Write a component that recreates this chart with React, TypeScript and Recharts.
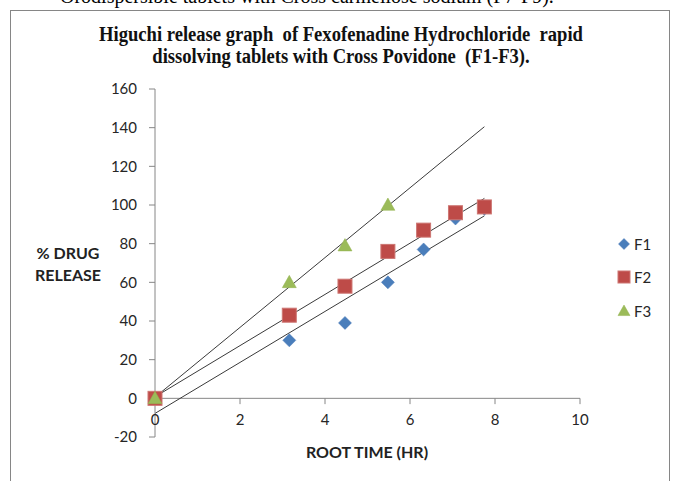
import { ScatterChart, Scatter, XAxis, YAxis, ReferenceLine, Legend } from 'recharts';

// root time (sqrt of hr) and % drug release
const rootTime = [0, 3.16, 4.47, 5.48, 6.32, 7.07, 7.75];
const f1Release = [0, 30, 39, 60, 77, 93, 98];
const f2Release = [0, 43, 58, 76, 87, 96, 99];
const f3Release = [0, 60, 79, 100];
const seriesNames = ['F1', 'F2', 'F3'];
const xTicks = [0, 2, 4, 6, 8, 10];
const yTicks = [-20, 0, 20, 40, 60, 80, 100, 120, 140, 160];

const colors = { F1: '#4A7EBB', F2: '#BE4B48', F3: '#9BBB59' };
const axisGray = '#868686';
const tickFont = { fill: '#262626', fontSize: 15, fontFamily: 'Lato' };

const toPoints = (ys: number[]) => ys.map((y, i) => ({ x: rootTime[i], y }));

// least squares fit, like Excel's linear trendline
function linFit(ys: number[]) {
  const xs = rootTime.slice(0, ys.length);
  const n = ys.length;
  const mx = xs.reduce((a, b) => a + b, 0) / n;
  const my = ys.reduce((a, b) => a + b, 0) / n;
  let sxy = 0;
  let sxx = 0;
  xs.forEach((x, i) => {
    sxy += (x - mx) * (ys[i] - my);
    sxx += (x - mx) * (x - mx);
  });
  const slope = sxy / sxx;
  const icpt = my - slope * mx;
  const xEnd = rootTime[rootTime.length - 1];
  return [
    { x: 0, y: icpt },
    { x: xEnd, y: icpt + slope * xEnd },
  ];
}

const Diamond = ({ cx, cy, r = 6.5 }: any) => (
  <path d={`M${cx},${cy - r}L${cx + r},${cy}L${cx},${cy + r}L${cx - r},${cy}Z`} fill={colors.F1} stroke="#4576B5" strokeWidth={0.5} />
);
const Square = ({ cx, cy, s = 14 }: any) => (
  <rect x={cx - s / 2} y={cy - s / 2} width={s} height={s} fill={colors.F2} stroke="#CD7672" strokeWidth={1} />
);
const Triangle = ({ cx, cy, w = 14 }: any) => (
  <path d={`M${cx},${cy - w / 2}L${cx + w / 2},${cy + w * 0.38}L${cx - w / 2},${cy + w * 0.38}Z`} fill={colors.F3} stroke="#93B34F" strokeWidth={0.5} />
);

const legendIcon: Record<string, (cx: number, cy: number) => JSX.Element> = {
  F1: (cx, cy) => <Diamond cx={cx} cy={cy} r={5.5} />,
  F2: (cx, cy) => <Square cx={cx} cy={cy} s={12} />,
  F3: (cx, cy) => <Triangle cx={cx} cy={cy} w={12} />,
};

function LegendBox() {
  return (
    <div>
      {seriesNames.map((name) => (
        <div key={name} style={{ height: 33.5, display: 'flex', alignItems: 'center' }}>
          <svg width={16} height={16}>{legendIcon[name](8, 8)}</svg>
          <span style={{ marginLeft: 2, fontFamily: 'Lato', fontSize: 15, color: '#262626' }}>{name}</span>
        </div>
      ))}
    </div>
  );
}

export default function App() {
  const fits = [f1Release, f2Release, f3Release].map(linFit);
  return (
    <div style={{ position: 'absolute', left: 0, top: 0, width: 677, height: 481, overflow: 'hidden', background: '#fff' }}>
      <div style={{ position: 'absolute', left: 60, top: -15, fontFamily: 'Liberation Serif', fontSize: 20, lineHeight: '23px', whiteSpace: 'nowrap', color: '#000' }}>
        Orodispersible tablets with Cross carmellose sodium (F7-F9).
      </div>
      <div style={{ position: 'absolute', left: 10, top: 10, width: 660, height: 600, border: `1.5px solid ${axisGray}`, boxSizing: 'border-box' }} />
      <div style={{ position: 'absolute', left: 0, top: 23, width: 682, textAlign: 'center', fontFamily: 'Liberation Serif', fontWeight: 'bold', fontSize: 20, lineHeight: '22px', color: '#111', transform: 'scaleX(0.93)' }}>
        Higuchi release graph&nbsp; of Fexofenadine Hydrochloride&nbsp; rapid
        <br />
        dissolving tablets with Cross Povidone&nbsp; (F1-F3).
      </div>
      <div style={{ position: 'absolute', left: 18, top: 242, width: 100, textAlign: 'center', fontFamily: 'Lato', fontWeight: 700, fontSize: 16, lineHeight: '22px', color: '#222' }}>
        % DRUG
        <br />
        RELEASE
      </div>
      <div style={{ position: 'absolute', left: 267, top: 441, width: 200, textAlign: 'center', fontFamily: 'Lato', fontWeight: 700, fontSize: 16, lineHeight: '22px', color: '#222' }}>
        ROOT TIME (HR)
      </div>
      <div style={{ position: 'absolute', left: 0, top: 0 }}>
        <ScatterChart width={677} height={481} margin={{ top: 89, right: 97, bottom: 44, left: 95 }}>
          <XAxis type="number" dataKey="x" domain={[0, 10]} ticks={xTicks} hide />
          <YAxis
            type="number"
            dataKey="y"
            width={60}
            domain={[-20, 160]}
            ticks={yTicks}
            interval={0}
            axisLine={{ stroke: axisGray }}
            tickLine={{ stroke: axisGray }}
            tickSize={6}
            tickMargin={12}
            tick={tickFont}
          />
          <ReferenceLine y={0} stroke={axisGray} />
          {xTicks.map((t) => (
            <ReferenceLine
              key={t}
              segment={[{ x: t, y: 0 }, { x: t, y: -3 }]}
              stroke={axisGray}
              ifOverflow="visible"
              label={{ value: String(t), position: 'bottom', offset: 10, ...tickFont }}
            />
          ))}
          <Legend
            layout="vertical"
            align="center"
            verticalAlign="middle"
            content={() => <LegendBox />}
            wrapperStyle={{ left: 616, top: 227, width: 60 }}
          />
          <Scatter name="F1" data={toPoints(f1Release)} fill={colors.F1} shape={(p: any) => <Diamond cx={p.cx} cy={p.cy} />} isAnimationActive={false} />
          <Scatter name="F2" data={toPoints(f2Release)} fill={colors.F2} shape={(p: any) => <Square cx={p.cx} cy={p.cy} />} isAnimationActive={false} />
          <Scatter name="F3" data={toPoints(f3Release)} fill={colors.F3} shape={(p: any) => <Triangle cx={p.cx} cy={p.cy} />} isAnimationActive={false} />
          {fits.map((seg, i) => (
            <ReferenceLine key={seriesNames[i]} segment={seg} stroke="#3a3a3a" strokeWidth={1} ifOverflow="visible" />
          ))}
        </ScatterChart>
      </div>
    </div>
  );
}
